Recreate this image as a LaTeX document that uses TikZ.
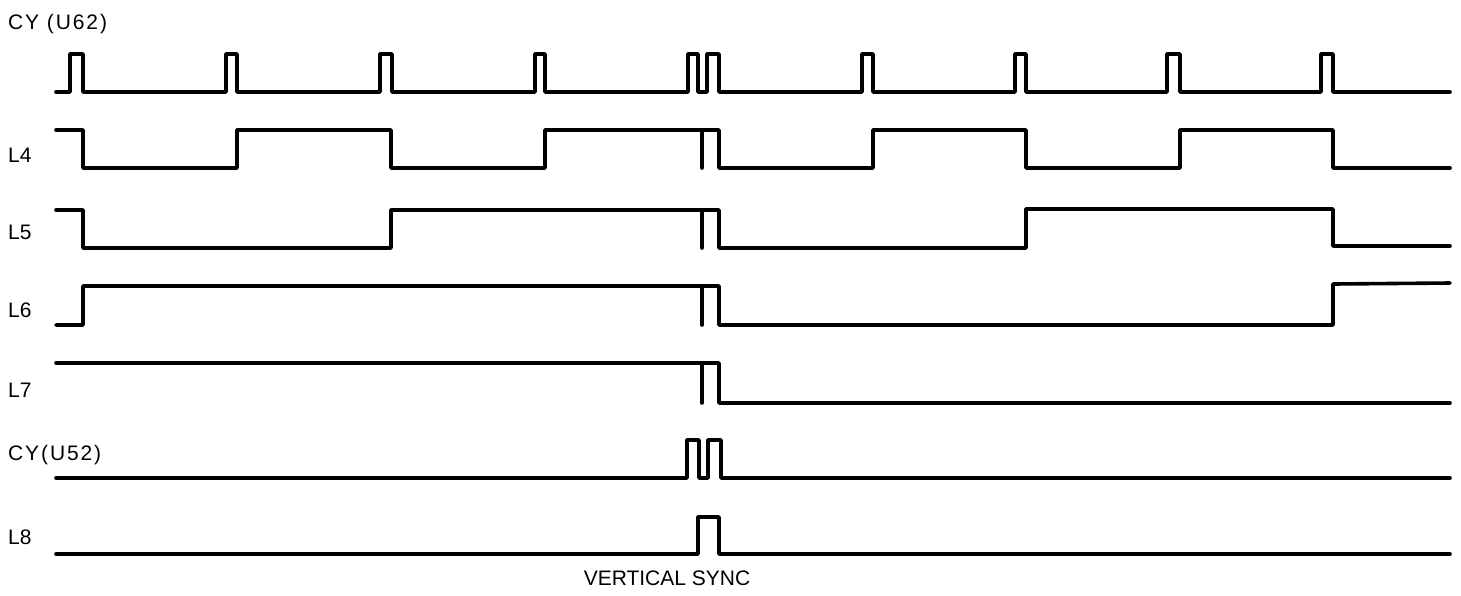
\documentclass[tikz,border=0pt]{standalone}
\usepackage{fontspec}
\setmainfont{Liberation Sans}
\begin{document}
\begin{tikzpicture}[x=1pt,y=-1pt,
  wave/.style={line width=3.6pt,line join=round,line cap=round,black},
  lbl/.style={anchor=west,inner sep=0pt,font=\fontsize{21}{23}\selectfont},
  wide/.style={font=\fontsize{21}{23}\selectfont\addfontfeatures{LetterSpace=9}}]
\useasboundingbox (0,0) rectangle (1461,595);
% labels
\node[lbl,wide] (lcy1) at (8,24) {CY (U62)};
\node[lbl] (l4) at (8,155) {L4};
\node[lbl] (l5) at (8,232) {L5};
\node[lbl] (l6) at (8,310) {L6};
\node[lbl] (l7) at (8,390) {L7};
\node[lbl,wide] (lcy2) at (8,455) {CY(U52)};
\node[lbl] (l8) at (8,537) {L8};
\node[lbl,anchor=center] (vs) at (667,578) {VERTICAL SYNC};
% CY (U62)
\draw[wave] (56,92) -| (70,54) -| (83,92) -| (226,54) -| (237,92) -| (380,54) -| (392,92)
  -| (535,54) -| (545,92) -| (688,54) -| (698,92) -| (707,54) -| (719,92) -| (862,54)
  -| (873,92) -| (1015,54) -| (1026,92) -| (1167,54) -| (1180,92) -| (1321,54) -| (1333,92) -- (1450,92);
% L4
\draw[wave] (56,130) -| (83,168) -| (237,130) -| (391,168) -| (545,130) -| (719,168)
  -| (873,130) -| (1026,168) -| (1180,130) -| (1333,168) -- (1450,168);
\draw[wave] (702,130) -- (702,168);
% L5
\draw[wave] (56,210) -| (83,248) -| (391,210) -| (719,248) -| (1026,209) -| (1333,246) -- (1450,246);
\draw[wave] (702,210) -- (702,248);
% L6
\draw[wave] (56,325) -| (83,286) -| (719,325) -| (1333,284) -- (1450,283);
\draw[wave] (702,286) -- (702,325);
% L7
\draw[wave] (56,363) -| (719,403) -- (1450,403);
\draw[wave] (702,363) -- (702,403);
% CY (U52)
\draw[wave] (56,478) -| (687,440) -| (699,478) -| (708,440) -| (721,478) -- (1450,478);
% L8
\draw[wave] (56,554) -| (698,517) -| (719,554) -- (1450,554);
\end{tikzpicture}
\end{document}
